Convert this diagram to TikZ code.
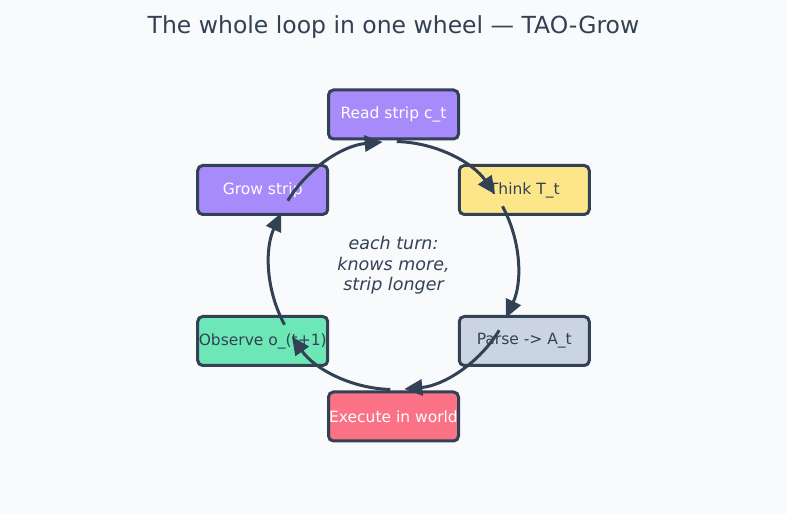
\documentclass[tikz,border=0pt]{standalone}
\usepackage{fontspec}
\setmainfont{DejaVu Sans}
\usepackage{xcolor}
\usetikzlibrary{arrows.meta,calc}
\definecolor{wink}{HTML}{334155}
\definecolor{wpaper}{HTML}{F8FAFC}
\definecolor{wpurple}{HTML}{A78BFA}
\definecolor{wyellow}{HTML}{FDE68A}
\definecolor{wslate}{HTML}{CBD5E1}
\definecolor{wrose}{HTML}{FB7185}
\definecolor{wmint}{HTML}{6EE7B7}

\begin{document}
\begin{tikzpicture}[
  x=1pt,y=1pt,
  every node/.style={font=\fontsize{15.5}{18}\selectfont,text=wink,align=center},
  stepbox/.style={draw=wink,line width=3pt,rounded corners=5pt,minimum width=130pt,minimum height=49pt,inner sep=0pt},
  darkstep/.style={stepbox,text=white},
  turn/.style={-{Triangle[length=18pt,width=16pt]},line width=3pt,draw=wink}
]
\fill[wpaper] (0,0) rectangle (787,514);
\useasboundingbox (0,0) rectangle (787,514);
\coordinate (hub) at (393.5,248.5);
\node[font=\fontsize{23.5}{28}\selectfont] (title) at (393.5,487) {The whole loop in one wheel — TAO-Grow};
\node[darkstep,fill=wpurple] (read) at ($(hub)+(90:151)$) {Read strip c\_t};
\node[stepbox,fill=wyellow] (think) at ($(hub)+(30:151)$) {Think T\_t};
\node[stepbox,fill=wslate] (parse) at ($(hub)+(-30:151)$) {Parse -> A\_t};
\node[darkstep,fill=wrose] (exec) at ($(hub)+(-90:151)$) {Execute in world};
\node[stepbox,fill=wmint] (observe) at ($(hub)+(-150:151)$) {Observe o\_(t+1)};
\node[darkstep,fill=wpurple] (grow) at ($(hub)+(150:151)$) {Grow strip};
\node[font=\itshape\fontsize{17.5}{20.5}\selectfont] (gist) at (hub) {each turn:\\knows more,\\strip longer};
% arcs of the wheel, clockwise
\coordinate (read-out) at ($(hub)+(88.5:124)$);
\coordinate (think-out) at ($(hub)+(28.5:124)$);
\coordinate (parse-out) at ($(hub)+(-31.5:124)$);
\coordinate (exec-out) at ($(hub)+(-91.5:124)$);
\coordinate (observe-out) at ($(hub)+(-151.5:124)$);
\coordinate (grow-out) at ($(hub)+(148.5:124)$);
\draw[turn] (read-out) arc[start angle=88.5,end angle=35,radius=124];
\draw[turn] (think-out) arc[start angle=28.5,end angle=-25,radius=124];
\draw[turn] (parse-out) arc[start angle=-31.5,end angle=-85,radius=124];
\draw[turn] (exec-out) arc[start angle=-91.5,end angle=-145,radius=124];
\draw[turn] (observe-out) arc[start angle=-151.5,end angle=-205,radius=124];
\draw[turn] (grow-out) arc[start angle=148.5,end angle=95,radius=124];
\end{tikzpicture}
\end{document}
